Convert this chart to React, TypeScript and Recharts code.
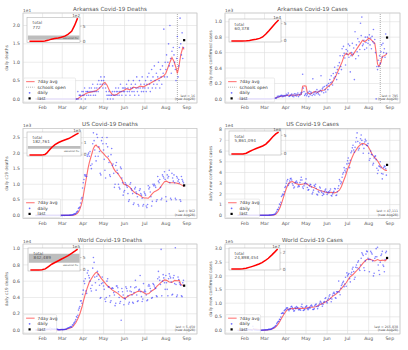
import React from 'react'
import { ComposedChart, LineChart, Line, Scatter, XAxis, YAxis, CartesianGrid, ReferenceLine, ReferenceArea } from 'recharts'

// days counted from Jan 1 2020 (day 0); last report Aug 28 = day 240
const LAST_DAY = 240
const monthTicks = [31, 60, 91, 121, 152, 182, 213, 244]
const monthNames = ['Feb', 'Mar', 'Apr', 'May', 'Jun', 'Jul', 'Aug', 'Sep']
const schoolsOpenDay = 230

// ---- Arkansas deaths ----
const arDeathsDaily = [
  0, 0, 0, 0, 0, 0, 0, 0, 0, 0, 0, 0, 0, 0, 0, 0, 0, 0, 0, 0,
  0, 0, 0, 0, 0, 0, 0, 0, 0, 0, 0, 0, 0, 0, 0, 0, 0, 0, 0, 0,
  0, 0, 0, 0, 0, 0, 0, 0, 0, 0, 0, 0, 0, 0, 0, 0, 0, 0, 0, 0, 0, 0,
  2, 0, 1, 1, 1, 0, 2, 1,
  2, 1, 3, 0, 2, 1, 2, 2, 1, 3, 2, 1, 3, 2, 4, 1, 2, 3, 1, 2, 3, 4, 2, 5, 3, 4, 6, 5, 4, 3,
  5, 6, 4, 3, 2, 1, 0, 1, 2, 1, 0, 1, 1, 2, 0, 1, 2, 1, 3, 2, 1, 2, 3, 1, 2, 4, 2, 1, 3, 2, 3,
  2, 3, 1, 4, 2, 3, 5, 2, 1, 3, 4, 2, 3, 5, 2, 1, 4, 3, 6, 2, 3, 1, 5, 3, 4, 2, 6, 3, 2, 4,
  3, 5, 2, 4, 6, 3, 7, 4, 2, 5, 8, 3, 6, 4, 9, 5, 3, 7, 4, 6, 10, 5, 3, 8, 6, 4, 9, 7, 19, 6, 10,
  8, 12, 6, 10, 15, 9, 20, 11, 7, 13, 9, 14, 12, 10, 8, 5, 11, 17, 6, 9, 14, 22, 15, 12, 18, 11, 14, 16,
]
const arDeathsAvg = [
  [21, 0], [82, 0], [85, 0.3], [88, 0.8], [91, 1], [95, 1.5], [100, 1.8], [105, 2.0], [110, 2.2], [114, 2.8],
  [118, 3.5], [121, 4.3], [123, 4.5], [126, 3.8], [130, 2.2], [134, 1.2], [137, 1.0], [141, 1.3], [145, 1.8],
  [150, 2.2], [155, 2.8], [160, 2.5], [165, 3.2], [170, 3.0], [175, 3.5], [180, 3.3], [185, 3.8], [190, 4.3],
  [195, 4.8], [200, 5.3], [205, 5.8], [210, 6.3], [213, 7.0], [216, 8.5], [219, 10], [222, 11.3], [225, 10.2],
  [228, 8.5], [230, 7], [232, 8.5], [235, 12], [238, 14], [240, 13.5],
]
const arDeathsTotal = [
  [21, 0], [82, 0], [91, 10], [105, 30], [121, 70], [135, 90], [152, 110], [166, 135], [182, 170],
  [196, 230], [213, 330], [226, 520], [240, 772],
]

// ---- Arkansas cases ----
const arCasesDaily = [
  0, 0, 0, 0, 0, 0, 0, 0, 0, 0, 0, 0, 0, 0, 0, 0, 0, 0, 0, 0,
  0, 0, 0, 0, 0, 0, 0, 0, 0, 0, 0, 0, 0, 0, 0, 0, 0, 0, 0, 0,
  0, 0, 0, 0, 0, 0, 0, 0, 0,
  1, 0, 5, 3, 4, 9, 11, 7, 16, 34, 22, 38, 30, 33, 44, 46, 29, 45, 31, 45, 37,
  40, 60, 44, 53, 75, 32, 38, 45, 51, 62, 33, 50, 28, 67, 44, 63, 38, 56, 77, 30, 58, 47, 76, 63, 85, 320, 140, 95, 45, 60,
  70, 40, 60, 85, 30, 100, 55, 90, 75, 45, 260, 60, 80, 50, 95, 70, 120, 85, 65, 100, 50, 110, 300, 95, 130, 150, 80, 160, 120, 90, 170,
  180, 120, 200, 160, 250, 210, 300, 220, 180, 330, 270, 410, 290, 340, 250, 380, 430, 330, 470, 560, 420, 380, 650, 560, 680, 590, 530, 440, 640, 580,
  620, 710, 540, 690, 350, 560, 600, 720, 580, 660, 250, 870, 520, 700, 610, 780, 560, 740, 640, 980, 820, 1060, 690, 710, 760, 640, 800, 730, 660, 800, 720,
  760, 830, 700, 790, 650, 810, 740, 900, 720, 770, 600, 0, 420, 380, 500, 420, 560, 460, 610, 700, 540, 720, 600, 650, 540, 840, 590, 795,
]
const arCasesAvg = [
  [21, 0], [68, 0], [72, 5], [76, 12], [80, 25], [85, 35], [90, 40], [95, 48], [100, 50], [105, 48], [110, 52],
  [114, 60], [116, 165], [119, 170], [121, 165], [123, 75], [128, 65], [133, 95], [138, 85], [143, 110], [148, 115],
  [152, 150], [155, 175], [158, 190], [162, 250], [165, 300], [168, 360], [171, 420], [174, 480], [177, 560],
  [180, 590], [183, 570], [186, 600], [189, 560], [192, 600], [195, 640], [198, 680], [201, 720], [204, 760],
  [207, 740], [210, 760], [213, 790], [216, 770], [219, 745], [222, 720], [224, 600], [226, 450], [228, 420],
  [231, 470], [233, 550], [236, 560], [238, 570], [240, 590],
]
const arCasesTotal = [
  [21, 0], [70, 0], [91, 600], [105, 1600], [121, 3300], [136, 4900], [152, 7400], [166, 11500], [182, 20800],
  [196, 30300], [213, 42500], [226, 52000], [240, 60378],
]

// ---- US deaths ----
const usDeathsDaily = [
  0, 0, 0, 0, 0, 0, 0, 0, 0, 0, 0, 0, 0, 0, 0, 0, 0, 0, 0, 0,
  0, 0, 0, 0, 0, 0, 0, 0, 0, 0, 0, 0, 0, 0, 0, 0, 0, 0, 0,
  1, 1, 5, 1, 1, 2, 3, 3, 4, 3, 5, 7, 7, 10, 10, 18, 23, 31, 49, 45, 57, 97, 120, 140, 225, 247, 268, 400, 525, 570, 880,
  1050, 1150, 1300, 1260, 1300, 1250, 1900, 1950, 2000, 1900, 2050, 1600, 1500, 1650, 2300, 2650, 2400, 2100, 1900, 1750,
  2600, 2500, 1900, 2200, 2050, 1350, 1300, 2400, 2500, 2300,
  2100, 1800, 1450, 1200, 2300, 2500, 2200, 1900, 1700, 1300, 1250, 1950, 2150, 1600, 1650, 1350, 900, 1000, 1600, 1700,
  1450, 1350, 1000, 900, 850, 1550, 1500, 1200, 1050, 650, 750,
  800, 1050, 1000, 950, 900, 700, 450, 500, 1000, 1050, 850, 800, 700, 350, 400, 850, 900, 750, 700, 600,
  350, 300, 800, 850, 700, 650, 550, 300, 350, 750,
  700, 650, 300, 250, 350, 950, 850, 900, 750, 600, 300, 450, 1000, 950, 1000, 950, 900, 450, 500, 1250,
  1100, 1050, 1150, 900, 500, 550, 1300, 1250, 1200, 1400, 1150,
  600, 450, 1300, 1200, 1250, 1450, 1050, 550, 500, 1350, 1200, 1100, 1300, 1050, 550, 500, 1250, 1200, 1100, 1150,
  1050, 500, 450, 1250, 1150, 1100, 1050, 962,
]
const usDeathsAvg = [
  [21, 0], [70, 0], [75, 3], [78, 15], [80, 35], [82, 60], [84, 110], [86, 200], [88, 330], [90, 500], [92, 750],
  [94, 1000], [96, 1250], [98, 1500], [100, 1700], [102, 1850], [104, 2000], [106, 2150], [108, 2230], [110, 2260],
  [112, 2200], [114, 2180], [116, 2100], [118, 2050], [121, 1980], [124, 1900], [127, 1850], [130, 1750], [133, 1650],
  [136, 1500], [139, 1400], [142, 1350], [145, 1250], [148, 1150], [151, 1000], [154, 980], [157, 950], [160, 900],
  [163, 820], [166, 750], [169, 700], [172, 680], [175, 640], [178, 580], [181, 560], [184, 560], [187, 550],
  [190, 620], [193, 700], [196, 760], [199, 790], [202, 830], [205, 900], [208, 1000], [211, 1080], [214, 1100],
  [217, 1060], [220, 1050], [224, 1050], [228, 1040], [232, 1020], [236, 980], [240, 930],
]
const usDeathsTotal = [
  [21, 0], [60, 0], [74, 60], [82, 500], [90, 4000], [98, 14000], [105, 30000], [113, 47000], [120, 62000],
  [135, 86000], [151, 104000], [166, 116000], [181, 127000], [196, 137000], [212, 153000], [227, 170000], [240, 182761],
]

// ---- US cases ----
const usCasesDaily = [
  0, 0, 0, 0, 0, 0, 0, 0, 0, 0, 0, 0, 0, 0, 0, 0, 0, 0, 0, 0,
  0, 0, 0, 0, 0, 0, 0, 0, 0, 0, 0, 0, 0, 0, 0, 0, 0, 0, 0,
  10, 20, 20, 30, 50, 70, 100, 110, 150, 250, 300, 450, 400, 650, 750, 1000, 1500, 2500, 3800, 5300,
  5500, 7500, 10500, 9800, 12200, 17500, 18700, 19800, 19200, 22000, 26000,
  27000, 30000, 32000, 33500, 28000, 29500, 32000, 34000, 34500, 33000, 29500, 28000, 25500, 26500, 30500,
  31000, 32000, 30500, 26500, 27500, 27000, 30500, 33000, 35500, 33000, 26500, 25000, 27500, 29500, 30500,
  34000, 29500, 26000, 23500, 24000, 27500, 29000, 28500, 26500, 20000, 21500, 23500, 28000, 27000, 29000,
  25000, 19500, 19000, 22500, 21500, 26500, 25500, 23000, 21500, 18500, 20500, 19500, 22000, 23500, 24500, 22000,
  19500, 21000, 22000, 21500, 23000, 24500, 18500, 18000, 20000, 21500, 22500, 25000, 24500, 18500, 19000,
  22000, 25000, 27500, 33500, 32000, 29500, 31000, 35500, 38500, 40000, 44500, 42000, 40500, 43500, 48000,
  51000, 53500, 48500, 44500, 51500, 58500, 60000, 63000, 65500, 61000, 59000, 63500, 68500, 72500, 77000,
  69000, 61000, 62500, 67500, 71500, 75000, 70000, 66000, 58000, 62500, 68500, 71000, 69500, 65500, 65000, 67000,
  58000, 51500, 53000, 60000, 57000, 56500, 47000, 48500, 53500, 55000, 55500, 52000, 44000, 39000,
  42000, 46000, 45500, 50000, 44500, 39000, 34000, 38500, 44500, 46000, 45500, 43500, 37500, 47111,
]
const usCasesAvg = [
  [21, 0], [70, 0], [74, 300], [77, 1200], [80, 3500], [83, 7500], [86, 13000], [89, 19000], [92, 25000],
  [95, 29500], [98, 31000], [101, 31500], [104, 30500], [107, 29500], [111, 28500], [115, 29000], [119, 29500],
  [122, 29500], [126, 27500], [130, 26500], [134, 25500], [138, 24000], [142, 23000], [146, 22500], [150, 21500],
  [154, 21000], [158, 21500], [162, 21000], [166, 21500], [170, 23500], [173, 27000], [176, 32000], [179, 37000],
  [182, 43000], [185, 47500], [188, 53000], [191, 57500], [194, 60500], [197, 63500], [200, 65500], [203, 67000],
  [206, 67000], [209, 66000], [212, 64500], [215, 61000], [218, 57000], [221, 54500], [224, 52500], [227, 50000],
  [230, 46500], [233, 44000], [236, 42500], [238, 42000], [240, 42000],
]
const usCasesTotal = [
  [21, 0], [60, 70], [75, 3500], [90, 190000], [105, 640000], [121, 1070000], [136, 1450000], [151, 1790000],
  [166, 2130000], [181, 2640000], [196, 3500000], [212, 4560000], [227, 5360000], [240, 5861094],
]

// ---- World deaths ----
const worldDeathsDaily = [
  17, 1, 8, 16, 14, 26, 26, 38, 43, 46, 45, 57, 64, 66, 73, 73, 86, 89, 97, 108,
  97, 254, 13, 143, 142, 106, 98, 115, 118, 109, 97, 150, 71, 52, 29, 44, 37, 58, 67,
  55, 53, 81, 66, 88, 98, 97, 186, 227, 278, 287, 345, 375, 425, 346, 625, 636, 828, 920, 1070,
  1280, 1660, 1540, 1820, 2450, 2690, 2900, 3560, 3600, 3290, 4390,
  4900, 6000, 5700, 6300, 4800, 4500, 7000, 7300, 6700, 6400, 6000, 5100, 4800, 5500, 7600,
  8900, 8300, 6500, 5800, 4900, 6600, 7200, 6800, 6200, 5500, 3900, 4000, 5700, 6500, 5800,
  5400, 5000, 3800, 3500, 4000, 6000, 6300, 5300, 5300, 4200, 3400, 3600, 5100, 5200, 5100,
  4600, 4300, 3000, 3300, 5400, 5400, 5200, 4700, 4000, 3300, 3500, 1200, 5100, 4700, 4300, 3100,
  3900, 3800, 5300, 5100, 4800, 4200, 3200, 3400, 4800, 5300, 4700, 4300, 3400, 3300, 4600,
  5200, 6100, 5300, 4300, 3500, 3600, 4900, 5000, 6700, 4700, 4100, 3500, 3800, 5700, 4700,
  4900, 4700, 4300, 3600, 3700, 5400, 5600, 5400, 5100, 4800, 3900, 4000, 5700, 5600, 5400,
  5200, 5100, 4200, 4100, 6300, 7200, 6500, 6100, 5600, 9900, 4200, 6000, 6800, 6400, 5800, 5000,
  6700, 5800, 5000, 4200, 6300, 6900, 6600, 6400, 5900, 4300, 4400, 6400, 6700, 5700,
  10100, 5600, 4100, 4300, 6500, 6200, 5800, 5600, 5500, 4200, 4100, 5800, 6100, 5450,
]
const worldDeathsAvg = [
  [21, 20], [40, 50], [55, 60], [65, 90], [72, 250], [76, 450], [80, 900], [83, 1400], [86, 2000], [89, 2800],
  [91, 3500], [94, 4400], [97, 5200], [100, 5900], [103, 6300], [106, 6700], [109, 7000], [111, 7100], [114, 6800],
  [117, 6400], [120, 6100], [123, 5800], [126, 5500], [130, 5200], [134, 4900], [138, 4700], [142, 4500],
  [146, 4200], [150, 3950], [153, 3900], [156, 4100], [160, 4300], [164, 4400], [168, 4600], [172, 4750],
  [176, 4800], [180, 4600], [184, 4400], [188, 4500], [192, 4800], [196, 5000], [200, 5400], [204, 5700],
  [208, 6000], [211, 6150], [214, 6100], [218, 5900], [222, 5850], [226, 6100], [230, 6050], [233, 6100],
  [235, 5600], [238, 5500], [240, 5450],
]
const worldDeathsTotal = [
  [21, 17], [45, 1000], [60, 2900], [75, 7000], [90, 42000], [105, 135000], [120, 230000], [135, 300000],
  [151, 372000], [166, 440000], [181, 510000], [196, 580000], [212, 670000], [227, 760000], [240, 842489],
]

// ---- World cases ----
const worldCasesDaily = [
  555, 98, 287, 493, 684, 809, 2651, 588, 2068, 1693, 2111, 4749, 3094, 4011, 3743, 3159, 3597, 2729, 3030, 2612,
  2040, 419, 15152, 6517, 2145, 2196, 2034, 1880, 503, 558, 621, 1140, 197, 501, 828, 945, 1275, 1426, 1800,
  1800, 2300, 1900, 2500, 2300, 2800, 3900, 3900, 4000, 4100, 4800, 7400, 7500, 10500, 11000,
  13500, 16500, 18000, 25000, 29000, 32500, 33500, 41000, 40000, 49000, 62000, 63000, 66000, 62000, 72000, 75000,
  77000, 81000, 83000, 82000, 76000, 72000, 78000, 80000, 87000, 89000, 84000, 77000, 71000, 72000, 84000,
  80000, 88000, 84000, 83000, 76000, 76000, 78000, 74000, 88000, 96000, 85000, 73000, 75000, 77000, 85000,
  88000, 90000, 80000, 76000, 80000, 85000, 82000, 90000, 93000, 89000, 77000, 77000, 80000, 91000, 95000,
  97000, 88000, 80000, 88000, 93000, 100000, 107000, 103000, 97000, 89000, 95000, 103000, 106000, 117000, 120000, 105000,
  101000, 112000, 118000, 126000, 131000, 118000, 105000, 115000, 129000, 136000, 140000, 135000, 120000, 118000, 142000,
  141000, 142000, 181000, 141000, 131000, 155000, 165000, 170000, 176000, 180000, 160000, 170000, 195000, 162000, 211000,
  200000, 205000, 209000, 190000, 178000, 206000, 213000, 225000, 232000, 216000, 188000, 195000, 232000, 240000, 230000,
  250000, 255000, 225000, 220000, 240000, 265000, 285000, 280000, 275000, 230000, 220000, 255000, 280000, 291000, 289000, 265000,
  260000, 215000, 260000, 290000, 285000, 280000, 255000, 200000, 210000, 265000, 270000, 300000, 270000, 305000,
  240000, 220000, 205000, 250000, 275000, 280000, 290000, 240000, 235000, 215000, 260000, 285000, 290000, 265838,
]
const worldCasesAvg = [
  [21, 500], [28, 1300], [35, 2800], [42, 3200], [47, 4800], [52, 3700], [56, 900], [60, 1300], [64, 2000],
  [68, 3200], [72, 6000], [75, 10000], [78, 17000], [81, 27000], [84, 40000], [87, 53000], [90, 65000], [93, 75000],
  [96, 79000], [99, 80000], [102, 80000], [106, 81000], [110, 81000], [114, 81500], [118, 81000], [121, 82000],
  [126, 85000], [131, 85000], [136, 88000], [141, 94000], [146, 100000], [150, 105000], [155, 113000], [160, 125000],
  [165, 133000], [170, 145000], [175, 160000], [180, 175000], [185, 195000], [190, 205000], [195, 218000],
  [200, 232000], [205, 248000], [210, 260000], [214, 262000], [218, 258000], [222, 255000], [226, 260000],
  [230, 256000], [234, 258000], [237, 255000], [240, 262000],
]
const worldCasesTotal = [
  [21, 555], [45, 40000], [60, 87000], [75, 270000], [91, 930000], [105, 2000000], [121, 3300000], [136, 4600000],
  [152, 6200000], [166, 8000000], [182, 10600000], [196, 13400000], [213, 17600000], [227, 21300000], [240, 24898454],
]

// seasonal flu death ranges shown in the death insets
const arFlu = [50, 190]
const usFlu = [52000, 75000]
const worldFlu = [290000, 650000]

const FONT = 'DejaVu Sans, Verdana, sans-serif'
const RED = '#ff3030'
const BLUE = '#2f2fff'
const GRID = '#dedede'
const TXT = '#555'

const toDaily = (vals: number[]) => vals.map((v, i) => ({ d: LAST_DAY - (vals.length - 1 - i), v }))
const toPts = (pairs: number[][]) => pairs.map(([d, v]) => ({ d, v }))

const DotShape = (p: any) => <circle cx={p.cx} cy={p.cy} r={0.8} fill={BLUE} fillOpacity={0.6} />
const LastShape = (p: any) => <rect x={p.cx - 1.1} y={p.cy - 1.1} width={2.2} height={2.2} fill="#000" />

type Cfg = {
  x: number; y: number; h: number
  plot: { l: number; r: number; t: number; b: number }
  title: string; ylabel: string
  exp: number; digits: number; yTicks: number[]; yDomain: number[]
  daily: number[]; avg: number[][]; total: number[][]
  box: number[]; iTicks: number[]; iExp: number; totalText: string
  flu?: number[]; fluInside?: boolean; schools?: boolean; lastText: string; legW: number
}

const panels: Cfg[] = [
  {
    x: 0, y: 0, h: 117, plot: { l: 23, r: 197, t: 13, b: 103 },
    title: 'Arkansas Covid-19 Deaths', ylabel: 'daily deaths',
    exp: 1, digits: 1, yTicks: [0, 5, 10, 15, 20], yDomain: [-1.1, 23.4],
    daily: arDeathsDaily, avg: arDeathsAvg, total: arDeathsTotal,
    box: [27, 17.3, 53, 25.4], iTicks: [0, 500], iExp: 2, totalText: '772',
    flu: arFlu, fluInside: true, schools: true, lastText: 'last = 16', legW: 52,
  },
  {
    x: 204, y: 0, h: 117, plot: { l: 21, r: 196, t: 13, b: 103 },
    title: 'Arkansas Covid-19 Cases', ylabel: 'daily new confirmed cases',
    exp: 3, digits: 1, yTicks: [0, 200, 400, 600, 800, 1000], yDomain: [-53, 1113],
    daily: arCasesDaily, avg: arCasesAvg, total: arCasesTotal,
    box: [25, 19, 52, 23], iTicks: [0, 50000], iExp: 4, totalText: '60,378',
    schools: true, lastText: 'last = 795', legW: 49,
  },
  {
    x: 0, y: 117, h: 117, plot: { l: 23, r: 197, t: 11.5, b: 101.5 },
    title: 'US Covid-19 Deaths', ylabel: 'daily c19 deaths',
    exp: 3, digits: 1, yTicks: [0, 500, 1000, 1500, 2000, 2500], yDomain: [-100, 2790],
    daily: usDeathsDaily, avg: usDeathsAvg, total: usDeathsTotal,
    box: [27, 15, 54, 24], iTicks: [0, 100000], iExp: 5, totalText: '182,761',
    flu: usFlu, lastText: 'last = 962', legW: 37,
  },
  {
    x: 204, y: 117, h: 117, plot: { l: 21, r: 196, t: 11.5, b: 101.5 },
    title: 'US Covid-19 Cases', ylabel: 'daily new confirmed cases',
    exp: 4, digits: 0, yTicks: [0, 10000, 20000, 30000, 40000, 50000, 60000, 70000, 80000], yDomain: [-3000, 81100],
    daily: usCasesDaily, avg: usCasesAvg, total: usCasesTotal,
    box: [25, 14, 52, 24], iTicks: [0, 5000000], iExp: 6, totalText: '5,861,094',
    lastText: 'last = 47,111', legW: 34,
  },
  {
    x: 0, y: 234, h: 116, plot: { l: 23, r: 197, t: 10, b: 100 },
    title: 'World Covid-19 Deaths', ylabel: 'daily c19 deaths',
    exp: 4, digits: 1, yTicks: [0, 2000, 4000, 6000, 8000, 10000], yDomain: [-480, 10560],
    daily: worldDeathsDaily, avg: worldDeathsAvg, total: worldDeathsTotal,
    box: [28, 14, 52, 23], iTicks: [0, 500000], iExp: 5, totalText: '842,489',
    flu: worldFlu, lastText: 'last = 5,450', legW: 33,
  },
  {
    x: 204, y: 234, h: 116, plot: { l: 21, r: 196, t: 10, b: 100 },
    title: 'World Covid-19 Cases', ylabel: 'daily new confirmed cases',
    exp: 5, digits: 1, yTicks: [0, 50000, 100000, 150000, 200000, 250000, 300000], yDomain: [-13000, 317000],
    daily: worldCasesDaily, avg: worldCasesAvg, total: worldCasesTotal,
    box: [25, 14, 51, 22], iTicks: [0, 20000000], iExp: 7, totalText: '24,898,454',
    lastText: 'last = 265,838', legW: 35,
  },
]

const PAD = 3 // room above/below the inset plot so its tick labels are not clipped

function Panel({ c }: { c: Cfg }) {
  const W = 204
  const { plot } = c
  const pts = toDaily(c.daily)
  const lastPt = [pts[pts.length - 1]]
  const scale = Math.pow(10, c.exp)
  const [bx, by, bw, bh] = c.box
  const tot = c.total[c.total.length - 1][1]
  const iDom = [-0.05 * tot, 1.05 * tot]
  const iy = (v: number) => by + ((iDom[1] - v) / (iDom[1] - iDom[0])) * bh

  const rows = c.schools ? ['7day avg', 'schools open', 'daily', 'last'] : ['7day avg', 'daily', 'last']
  const rowH = 5.6
  const lh = rows.length * rowH + 1.6
  const lx = plot.l + 0.6
  const ly = plot.b - 1 - lh

  return (
    <div style={{ position: 'absolute', left: c.x, top: c.y, width: W, height: c.h }}>
      <div style={{ position: 'absolute', left: 0, top: 0 }}>
        <ComposedChart
          width={W}
          height={c.h}
          margin={{ top: plot.t, right: W - plot.r, bottom: c.h - plot.b - 10, left: plot.l - 13 }}
        >
          <CartesianGrid stroke={GRID} strokeWidth={0.6} />
          <XAxis
            type="number" dataKey="d" domain={[2, 259]} allowDataOverflow ticks={monthTicks} interval={0}
            tickFormatter={(v: number) => monthNames[monthTicks.indexOf(v)] || ''}
            height={10} axisLine={false} tickLine={false} tickSize={2} tickMargin={1}
            tick={{ fontSize: 4.6, fill: TXT, fontFamily: FONT }}
          />
          <YAxis
            type="number" dataKey="v" domain={c.yDomain} allowDataOverflow ticks={c.yTicks} interval={0}
            tickFormatter={(v: number) => (v / scale).toFixed(c.digits)}
            width={13} axisLine={false} tickLine={false} tickSize={2} tickMargin={1}
            tick={{ fontSize: 4.6, fill: TXT, fontFamily: FONT }}
          />
          {c.schools && (
            <ReferenceLine x={schoolsOpenDay} stroke="#999" strokeWidth={0.8} strokeDasharray="1 1" />
          )}
          <Scatter data={pts} shape={DotShape} isAnimationActive={false} />
          <Line data={toPts(c.avg)} dataKey="v" stroke={RED} strokeOpacity={0.7} strokeWidth={1.1} dot={false} isAnimationActive={false} />
          <Scatter data={lastPt} shape={LastShape} isAnimationActive={false} />
        </ComposedChart>
      </div>

      <svg width={W} height={c.h} style={{ position: 'absolute', left: 0, top: 0 }} fontFamily={FONT}>
        <rect x={plot.l} y={plot.t} width={plot.r - plot.l} height={plot.b - plot.t} fill="none" stroke="#c8c8c8" strokeWidth={0.7} />
        <text x={(plot.l + plot.r) / 2} y={plot.t - 2.2} fontSize={5.6} fill="#555" textAnchor="middle">{c.title}</text>
        <text x={plot.l} y={plot.t - 1.5} fontSize={4.3} fill={TXT}>{'1e' + c.exp}</text>
        <text x={7.5} y={(plot.t + plot.b) / 2} fontSize={4.2} fill={TXT} textAnchor="middle"
          transform={`rotate(-90 7.5 ${(plot.t + plot.b) / 2})`}>{c.ylabel}</text>
        <text x={plot.r - 2} y={plot.b - 6.5} fontSize={3.2} fill={TXT} textAnchor="end">{c.lastText}</text>
        <text x={plot.r - 2} y={plot.b - 2.6} fontSize={3.2} fill={TXT} textAnchor="end">(new Aug28)</text>

        <rect x={lx} y={ly} width={c.legW} height={lh} rx={1.2} fill="#fff" fillOpacity={0.85} stroke="#d4d4d4" strokeWidth={0.5} />
        {rows.map((r, i) => {
          const cy = ly + 0.8 + rowH * (i + 0.5)
          let handle = null
          if (r === '7day avg') handle = <line x1={lx + 2.5} x2={lx + 11} y1={cy} y2={cy} stroke={RED} strokeOpacity={0.6} strokeWidth={1.2} />
          else if (r === 'schools open') handle = <line x1={lx + 2.5} x2={lx + 11} y1={cy} y2={cy} stroke="#999" strokeWidth={0.8} strokeDasharray="1 1" />
          else if (r === 'daily') handle = <circle cx={lx + 6} cy={cy} r={0.9} fill={BLUE} fillOpacity={0.7} />
          else handle = <rect x={lx + 4.9} y={cy - 1.1} width={2.2} height={2.2} fill="#000" />
          return (
            <g key={r}>
              {handle}
              <text x={lx + 14} y={cy + 1.5} fontSize={4.3} fill="#333">{r}</text>
            </g>
          )
        })}

        <rect x={bx} y={by} width={bw} height={bh} fill="#fff" stroke="#b4b4b4" strokeWidth={0.6} />
      </svg>

      <div style={{ position: 'absolute', left: bx, top: by - PAD }}>
        <LineChart width={bw + 14} height={bh + 2 * PAD} margin={{ top: PAD, right: 0, bottom: PAD, left: 0 }}>
          <XAxis type="number" dataKey="d" domain={[10, 251]} allowDataOverflow hide />
          <YAxis
            orientation="right" type="number" dataKey="v" domain={iDom} allowDataOverflow ticks={c.iTicks} interval={0}
            tickFormatter={(v: number) => String(Math.round(v / Math.pow(10, c.iExp)))}
            width={14} axisLine={false} tickSize={1.5} tickMargin={1.2} tickLine={{ stroke: '#999', strokeWidth: 0.5 }}
            tick={{ fontSize: 4.3, fill: TXT, fontFamily: FONT }}
          />
          {c.flu && (
            <ReferenceArea x1={14} x2={249} y1={c.flu[0]} y2={c.flu[1]} fill="#bdbdbd" fillOpacity={1} stroke="none" />
          )}
          <Line data={toPts(c.total)} dataKey="v" stroke="#ff0000" strokeWidth={1.5} dot={false} isAnimationActive={false} />
        </LineChart>
      </div>

      <svg width={W} height={c.h} style={{ position: 'absolute', left: 0, top: 0, pointerEvents: 'none' }} fontFamily={FONT}>
        <text x={bx + bw} y={by - 0.4} fontSize={4.1} fill={TXT} textAnchor="end">{'1e' + c.iExp}</text>
        <text x={bx + 5.5} y={by + 7} fontSize={4.2} fill={TXT}>total</text>
        <text x={bx + 5.5} y={by + 11.4} fontSize={4.2} fill={TXT}>{c.totalText}</text>
        {c.flu && (
          <text x={bx + bw - 2} y={c.fluInside ? iy((c.flu[0] + c.flu[1]) / 2) + 0.9 : iy(c.flu[0]) + 3.2}
            fontSize={2.5} fill={TXT} textAnchor="end">seasonal flu</text>
        )}
      </svg>
    </div>
  )
}

export default function App() {
  return (
    <div style={{ position: 'absolute', left: 0, top: 0, width: 408, height: 350, background: '#fff' }}>
      {panels.map((c) => <Panel key={c.title} c={c} />)}
    </div>
  )
}
